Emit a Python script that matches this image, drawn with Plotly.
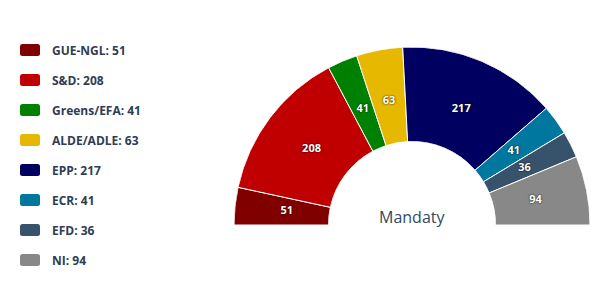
import plotly.graph_objects as go

parties = ["GUE-NGL", "S&D", "Greens/EFA", "ALDE/ADLE", "EPP", "ECR", "EFD", "NI"]
seats = [51, 208, 41, 63, 217, 41, 36, 94]
colors = ["#800000", "#c00000", "#008000", "#e6b800", "#000060", "#00779e", "#37526b", "#888888"]
center_label = "Mandaty"

W, H = 600, 295
total = sum(seats)
theta, width = [], []
cum = 0.0
for s in seats:
    w = s / total * 180.0
    theta.append(cum + w / 2)
    width.append(w)
    cum += w

fig = go.Figure()
fig.add_trace(go.Barpolar(
    r=[1] * len(seats), theta=theta, width=width, base=0,
    marker=dict(color=colors, line=dict(color="white", width=1)),
    hovertext=[f"{p}: {s}" for p, s in zip(parties, seats)], hoverinfo="text",
    showlegend=False,
))
fig.add_trace(go.Scatterpolar(
    r=[0.45] * len(seats), theta=theta, mode="text",
    text=[str(s) for s in seats],
    textfont=dict(family="Open Sans", size=11, color="white", weight="bold",
                  shadow="0px 0px 2px #000"),
    hoverinfo="skip", showlegend=False,
))

# domain of the half-donut in pixels: outer radius 178 centered at (412, 225)
cx, cy, R = 412, 225, 178
fig.update_layout(
    width=W, height=H,
    margin=dict(l=0, r=0, t=0, b=0),
    paper_bgcolor="white", plot_bgcolor="white",
    polar=dict(
        domain=dict(x=[(cx - R) / W, (cx + R) / W], y=[(H - cy) / H, (H - cy + R) / H]),
        sector=[0, 180], hole=83.5 / 178, bgcolor="white",
        angularaxis=dict(visible=False, rotation=180, direction="clockwise",
                         showgrid=False),
        radialaxis=dict(visible=False, range=[0, 1], showgrid=False),
    ),
    showlegend=False,
)

# center label
fig.add_annotation(x=cx / W, y=(H - 217) / H, xref="paper", yref="paper",
                   text=center_label, showarrow=False, xanchor="center", yanchor="middle",
                   font=dict(family="Open Sans", size=16, color="#34495e"))

# legend (rounded swatches + labels)
def rrect(x0, y0, x1, y1, rad):
    def px(x): return x / W
    def py(y): return 1 - y / H
    return (f"M {px(x0+rad)} {py(y0)} L {px(x1-rad)} {py(y0)} Q {px(x1)} {py(y0)} {px(x1)} {py(y0+rad)} "
            f"L {px(x1)} {py(y1-rad)} Q {px(x1)} {py(y1)} {px(x1-rad)} {py(y1)} "
            f"L {px(x0+rad)} {py(y1)} Q {px(x0)} {py(y1)} {px(x0)} {py(y1-rad)} "
            f"L {px(x0)} {py(y0+rad)} Q {px(x0)} {py(y0)} {px(x0+rad)} {py(y0)} Z")

for i, (p, s, c) in enumerate(zip(parties, seats, colors)):
    yc = 50 + 30 * i
    fig.add_shape(type="path", xref="paper", yref="paper",
                  path=rrect(20, yc - 6, 40, yc + 6, 2.5),
                  fillcolor=c, line=dict(width=0))
    fig.add_annotation(x=50 / W, y=(H - yc) / H, xref="paper", yref="paper",
                       text=f"<b>{p}: {s}</b>", showarrow=False,
                       xanchor="left", yanchor="middle",
                       font=dict(family="Open Sans", size=12, color="#2e3d55"))

fig.write_html("out.html")
